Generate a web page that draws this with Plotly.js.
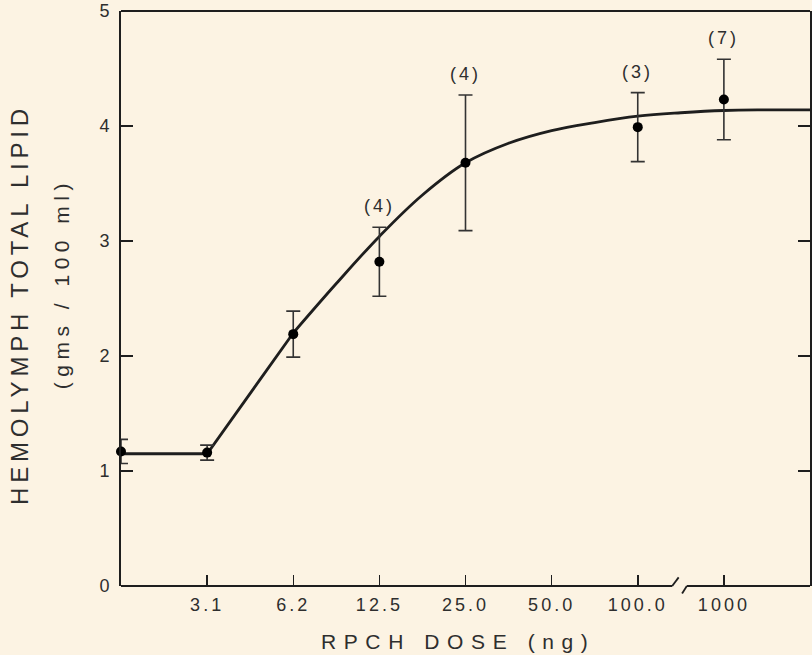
<!DOCTYPE html>
<html>
<head>
<meta charset="utf-8">
<script src="https://cdn.plot.ly/plotly-3.0.1.min.js"></script>
<style>
  html, body { margin: 0; padding: 0; background: #fcf3e3; }
  #chart { width: 812px; height: 655px; }
  #chart .xtick text { letter-spacing: 3px; }
</style>
</head>
<body>
<div id="chart"></div>
<script>
// ---- data ----
const doseLabels   = ['3.1', '6.2', '12.5', '25.0', '50.0', '100.0', '1000'];
const dosePositions = [1, 2, 3, 4, 5, 6, 7];          // category slots on the x axis (0 = control)
const pointPositions = [0, 1, 2, 3, 4, 6, 7];          // control, 3.1, 6.2, 12.5, 25.0, 100.0, 1000
const meanLipid    = [1.17, 1.16, 2.19, 2.82, 3.68, 3.99, 4.23];
const errLipid     = [0.105, 0.065, 0.20, 0.30, 0.59, 0.30, 0.35];
const nCounts      = [null, null, null, 4, 4, 3, 7];

// fitted dose-response line
const lineLowX = [0, 1, 2];
const lineLowY = [1.15, 1.15, 2.20];
const curveX   = [2, 2.5, 3, 3.5, 4, 4.5, 5, 5.5, 6, 6.5, 7, 7.5, 8];
const curveY   = [2.20, 2.63, 3.04, 3.40, 3.68, 3.85, 3.96, 4.03, 4.085, 4.115, 4.135, 4.14, 4.14];

// axis-break position (in x-axis units)
const breakStart = 6.40, breakEnd = 6.57;

const ink = '#1e1e1e';
const textInk = '#2e2e2e';
const bg = '#fcf3e3';
const fontFam = '"Liberation Sans", Arial, sans-serif';

function spaced(txt, px) {
  return '<span style="letter-spacing:' + px + 'px">' + txt + '</span>';
}

const traces = [
  { x: lineLowX, y: lineLowY, mode: 'lines', line: { color: ink, width: 2.8, shape: 'linear' },
    hoverinfo: 'skip', showlegend: false, cliponaxis: false },
  { x: curveX, y: curveY, mode: 'lines', line: { color: ink, width: 2.8, shape: 'spline', smoothing: 1.1 },
    hoverinfo: 'skip', showlegend: false, cliponaxis: false },
  { x: pointPositions, y: meanLipid, mode: 'markers',
    marker: { color: '#000', size: 10 },
    error_y: { type: 'data', array: errLipid, visible: true, color: '#333', thickness: 1.6, width: 7 },
    showlegend: false, cliponaxis: false }
];

const annotations = [];
pointPositions.forEach((p, i) => {
  if (nCounts[i] != null) {
    annotations.push({
      x: p, y: meanLipid[i] + errLipid[i], xref: 'x', yref: 'y',
      text: spaced('(' + nCounts[i] + ')', 3), showarrow: false,
      yanchor: 'bottom', yshift: 9,
      font: { family: fontFam, size: 18, color: textInk }
    });
  }
});
annotations.push({
  xref: 'paper', yref: 'paper', x: -0.147, y: 0.49, textangle: -90,
  text: spaced('HEMOLYMPH TOTAL LIPID', 4.8), showarrow: false,
  xanchor: 'center', yanchor: 'middle',
  font: { family: fontFam, size: 24, color: textInk }
});
annotations.push({
  xref: 'paper', yref: 'paper', x: -0.087, y: 0.525, textangle: -90,
  text: spaced('(gms / 100 ml)', 5.5), showarrow: false,
  xanchor: 'center', yanchor: 'middle',
  font: { family: fontFam, size: 21, color: textInk }
});
annotations.push({
  xref: 'paper', yref: 'paper', x: 0.489, y: -0.097,
  text: spaced('RPCH DOSE (ng)', 7.6), showarrow: false,
  xanchor: 'center', yanchor: 'middle',
  font: { family: fontFam, size: 21, color: textInk }
});

const shapes = [
  // top frame line
  { type: 'line', xref: 'paper', yref: 'paper', x0: 0, x1: 1, y0: 1, y1: 1, line: { color: ink, width: 2 } },
  // broken bottom axis
  { type: 'line', xref: 'x', yref: 'paper', x0: 0, x1: breakStart, y0: 0, y1: 0, line: { color: ink, width: 2 } },
  { type: 'line', xref: 'x', yref: 'paper', x0: breakStart, x1: breakStart + 0.075, y0: 0, y1: 0.015, line: { color: ink, width: 1.8 } },
  { type: 'line', xref: 'x', yref: 'paper', x0: breakEnd - 0.055, x1: breakEnd, y0: -0.013, y1: 0, line: { color: ink, width: 1.8 } },
  { type: 'line', xref: 'x', yref: 'paper', x0: breakEnd, x1: 8, y0: 0, y1: 0, line: { color: ink, width: 2 } }
];

const layout = {
  width: 812, height: 655,
  margin: { l: 121, r: 2, t: 11, b: 69, pad: 0 },
  paper_bgcolor: bg, plot_bgcolor: bg,
  font: { family: fontFam, color: textInk },
  xaxis: {
    range: [0, 8], showgrid: false, zeroline: false, showline: false,
    tickmode: 'array', tickvals: dosePositions, ticktext: doseLabels,
    ticks: 'inside', ticklen: 11, tickwidth: 1.5, tickcolor: ink,
    tickfont: { family: fontFam, size: 18, color: textInk },
    ticklabelstandoff: 6
  },
  yaxis: {
    range: [0, 5], showgrid: false, zeroline: false,
    showline: true, linewidth: 2, linecolor: ink, mirror: 'ticks',
    tickmode: 'array', tickvals: [0, 1, 2, 3, 4, 5],
    ticks: 'inside', ticklen: 12, tickwidth: 1.5, tickcolor: ink,
    tickfont: { family: fontFam, size: 18, color: textInk },
    ticklabelstandoff: 6
  },
  shapes: shapes,
  annotations: annotations,
  showlegend: false
};

Plotly.newPlot('chart', traces, layout, { staticPlot: true });
</script>
</body>
</html>
